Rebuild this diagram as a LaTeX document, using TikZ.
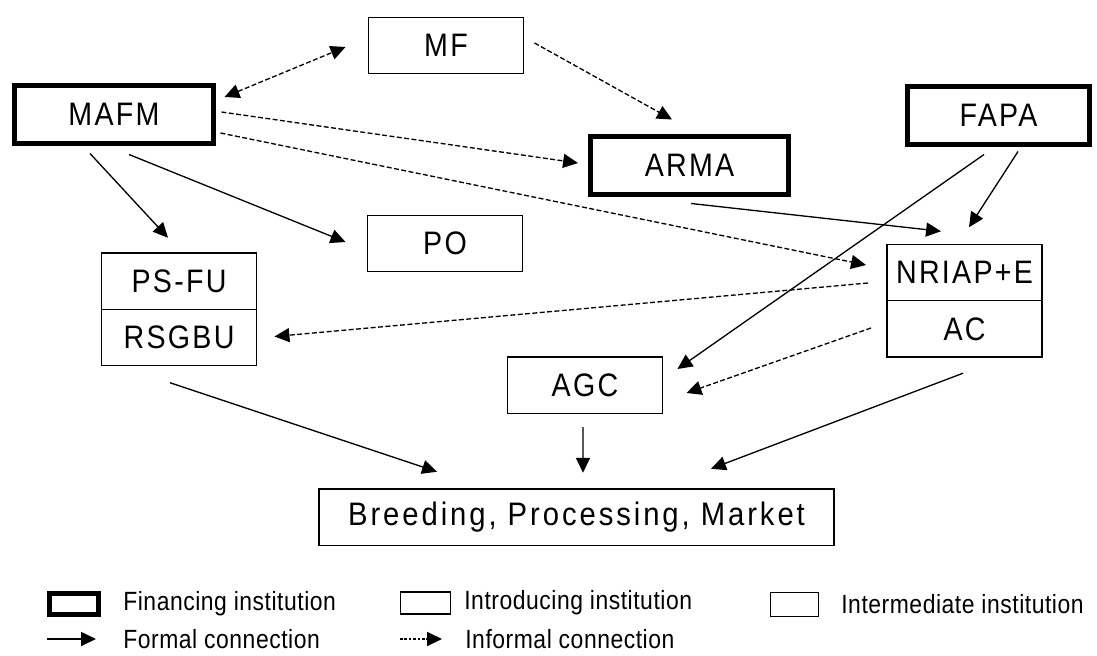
\documentclass[tikz,border=0pt]{standalone}
\usepackage{fontspec}
\setmainfont{Liberation Sans}
\newfontfamily\boxfont[FakeStretch=0.88, LetterSpace=7]{Liberation Sans}
\newfontfamily\spacedfont[FakeStretch=0.9, LetterSpace=9]{Liberation Sans}
\newfontfamily\legfont[FakeStretch=0.87, LetterSpace=2]{Liberation Sans}
\usetikzlibrary{arrows.meta, positioning}

\begin{document}
\begin{tikzpicture}[
  x=0.02cm, y=-0.02cm,
  every node/.style={font=\boxfont\fontsize{18.5}{22}\selectfont},
  box/.style={rectangle, draw, line width=0.85pt, outer sep=0pt, inner sep=2pt, minimum width=3.1cm, minimum height=1.13cm},
  fin/.style={box, line width=2.85pt, minimum width=3.98cm, minimum height=1.16cm},
  intro/.style={box},
  inter/.style={box},
  frm/.style={-{Triangle[length=8.5pt, width=8pt]}, line width=0.75pt},
  inf/.style={frm, dash pattern=on 2.8pt off 1.4pt},
  both/.style={{Triangle[length=8.5pt, width=8pt]}-{Triangle[length=8.5pt, width=8pt]}},
  legtext/.style={font=\legfont\fontsize{15}{18}\selectfont, anchor=west, inner sep=0pt}
]
  \useasboundingbox (0,0) rectangle (1097,655);

  \node[intro] (mf) at (446,45.5) {MF};
  \node[fin] (mafm) at (114,114.5) {MAFM};
  \node[fin] (arma) at (689.5,165.5) {ARMA};
  \node[fin, minimum width=3.64cm] (fapa) at (998.5,115.5) {FAPA};
  \node[inter] (po) at (445,243.5) {PO};
  \node[inter] (psfu) at (179,281) {PS-FU};
  \node[inter, below=0pt of psfu] (rsgbu) {RSGBU};
  \node[inter] (nriap) at (964.5,272.5) {NRIAP+E};
  \node[inter, below=0pt of nriap] (ac) {AC};
  \node[inter] (agc) at (585,385) {AGC};
  \node[box, minimum width=10.3cm] (market) at (576.5,517) {\spacedfont Breeding, Processing, Market};

  \draw[inf, both] ([shift={(11,-17.5)}]mafm.east) -- ([shift={(-23,1.5)}]mf.west);
  \draw[inf] ([shift={(11,-2.5)}]mf.east) -- ([shift={(-17.5,-17)}]arma.north);
  \draw[inf] ([shift={(8,-2.5)}]mafm.east) -- ([shift={(-12,-2.5)}]arma.west);
  \draw[inf] ([shift={(7,18.5)}]mafm.east) -- ([shift={(-21,-7.5)}]nriap.west);
  \draw[frm] ([shift={(-24,10)}]mafm.south) -- ([shift={(-11,-15)}]psfu.north);
  \draw[frm] ([shift={(15,11)}]mafm.south) -- ([shift={(-22,-1.5)}]po.west);
  \draw[frm] ([shift={(1.5,9)}]arma.south) -- ([shift={(-23.5,-13)}]nriap.north);
  \draw[frm] ([shift={(19.5,7)}]fapa.south) -- ([shift={(4.5,-17)}]nriap.north);
  \draw[frm] ([shift={(-14.5,10)}]fapa.south) -- ([shift={(15,-16)}]agc.east);
  \draw[inf] ([shift={(-19,10.5)}]nriap.west) -- ([shift={(18,-1)}]rsgbu.east);
  \draw[inf] ([shift={(-16,-1)}]ac.west) -- ([shift={(24,8)}]agc.east);
  \draw[frm] ([shift={(-9,17)}]rsgbu.south) -- ([shift={(-139.5,-17)}]market.north);
  \draw[frm] ([shift={(-2,14)}]agc.south) -- ([shift={(6.5,-16)}]market.north);
  \draw[frm] ([shift={(-1.5,16)}]ac.south) -- ([shift={(134.5,-20)}]market.north);

  \node[fin, minimum width=0.98cm, minimum height=0.42cm] (lfin) at (74,604) {};
  \node[legtext] (lfintxt) at (123,604) {Financing institution};
  \node[intro, minimum width=1.0cm, minimum height=0.44cm] (lintro) at (425.5,603) {};
  \node[legtext] (lintrotxt) at (464,603) {Introducing institution};
  \node[inter, minimum width=0.96cm, minimum height=0.48cm] (linter) at (794.5,604.5) {};
  \node[legtext] (lintertxt) at (841,604) {Intermediate institution};
  \coordinate (fa) at (47,639);
  \coordinate (fb) at (96,639);
  \draw[frm] (fa) -- (fb);
  \node[legtext] (frmtxt) at (123,639) {Formal connection};
  \coordinate (ia) at (400,639);
  \coordinate (ib) at (442,639);
  \draw[inf, dash pattern=on 1.5pt off 1pt] (ia) -- (ib);
  \node[legtext] (inftxt) at (465,639) {Informal connection};
\end{tikzpicture}
\end{document}
